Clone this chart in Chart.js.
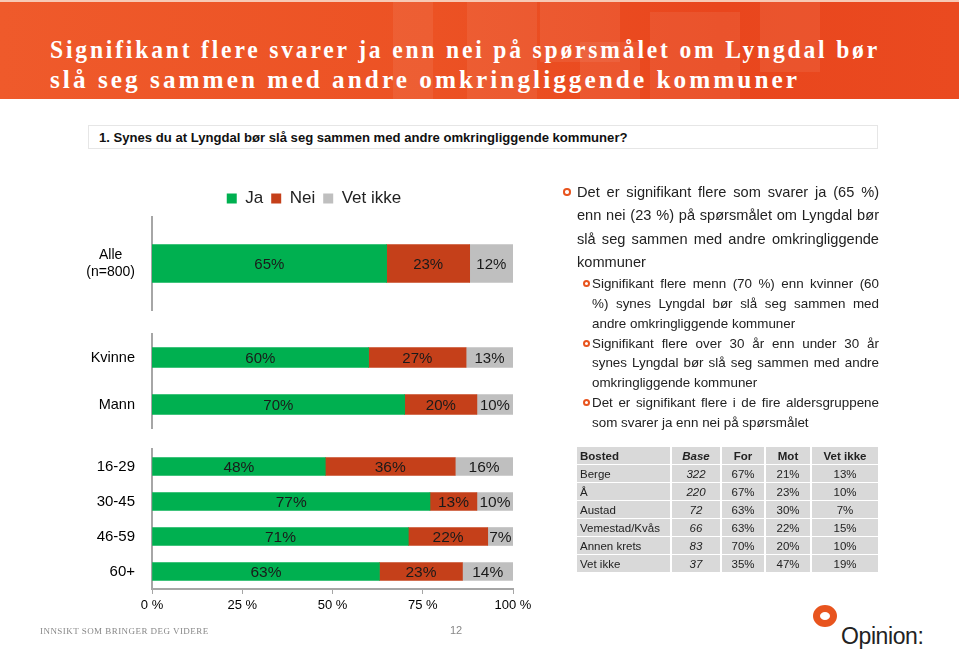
<!DOCTYPE html>
<html>
<head>
<meta charset="utf-8">
<script src="https://cdn.jsdelivr.net/npm/chart.js@4"></script>
<style>
  body { margin: 0; width: 959px; height: 650px; background: #fff; position: relative; overflow: hidden; font-family: "Liberation Sans", Arial, sans-serif; }
  #banner { position: absolute; left: 0; top: 0; width: 959px; height: 99px;
    background: linear-gradient(90deg, #ef5a2b 0%, #ec5224 45%, #e9461d 75%, #ea4a20 100%);
    border-top: 2px solid #f7c9b5; box-sizing: border-box; overflow: hidden; }
  .sq { position: absolute; background: rgba(255,255,255,0.07); }
  #title { position: absolute; left: 50px; top: 33px; color: #fff; font-family: "Liberation Serif", "DejaVu Serif", serif;
    font-weight: bold; font-size: 25px; line-height: 30px; letter-spacing: 3px; }
  .tl { display: inline-block; white-space: nowrap; transform-origin: 0 50%; }
  #question { position: absolute; left: 88px; top: 125px; width: 790px; height: 24px; border: 1px solid #e6e6e6; box-sizing: border-box; }
  #question span { position: absolute; left: 10px; top: 4px; font-size: 13.1px; font-weight: bold; color: #111; }
  canvas { position: absolute; }
  #notes { position: absolute; left: 561px; top: 181px; width: 318px; color: #222; }
  .b1 { position: relative; padding-left: 16px; font-size: 14.6px; line-height: 23.3px; text-align: justify; }
  .b2 { position: relative; padding-left: 31px; font-size: 13.4px; line-height: 19.8px; text-align: justify; }
  .ring { position: absolute; border-style: solid; border-color: #e8541e; border-radius: 50%; }
  .b1 .ring { left: 2px; top: 7px; width: 3.5px; height: 3.5px; border-width: 2.4px; }
  .b2 .ring { left: 22px; top: 6px; width: 3px; height: 3px; border-width: 2.2px; }
  #tbl { position: absolute; left: 575px; top: 446px; width: 305px; table-layout: fixed; border-collapse: separate; border-spacing: 2px 1.5px; font-size: 11.5px; color: #222; }
  #tbl td { background: #d9d9d9; height: 17px; padding: 0 3px; text-align: center; overflow: hidden; white-space: nowrap; }
  #tbl td:first-child { text-align: left; }
  #tbl td.base { font-style: italic; }
  #tbl tr.head td { font-weight: bold; }
  #footer { position: absolute; left: 40px; top: 626px; font-family: "Liberation Serif", serif; font-size: 9px; color: #888; letter-spacing: 0.45px; }
  #page { position: absolute; left: 450px; top: 624px; font-size: 11px; color: #888; }
  #logoRing { position: absolute; left: 813px; top: 605px; width: 10px; height: 8px; border: 7.5px solid #e8541e; border-radius: 50%; }
  #logoText { position: absolute; left: 841px; top: 623px; font-size: 23px; color: #222; font-family: "Liberation Sans", Arial, sans-serif; letter-spacing: -0.4px; }
</style>
</head>
<body>
<div id="banner">
  <div class="sq" style="left:393px;top:0;width:40px;height:99px"></div>
  <div class="sq" style="left:467px;top:0;width:70px;height:99px"></div>
  <div class="sq" style="left:540px;top:0;width:80px;height:60px"></div>
  <div class="sq" style="left:580px;top:40px;width:60px;height:59px"></div>
  <div class="sq" style="left:650px;top:10px;width:90px;height:89px"></div>
  <div class="sq" style="left:760px;top:0;width:60px;height:70px"></div>
  <div id="title"><span class="tl" data-w="830">Signifikant flere svarer ja enn nei på spørsmålet om Lyngdal bør</span><br><span class="tl" data-w="750">slå seg sammen med andre omkringliggende kommuner</span></div>
</div>
<div id="question"><span>1. Synes du at Lyngdal bør slå seg sammen med andre omkringliggende kommuner?</span></div>

<canvas id="c1" width="628" height="147" style="left:0;top:180px"></canvas>
<canvas id="c2" width="540" height="112" style="left:0;top:325px"></canvas>
<canvas id="c3" width="540" height="180" style="left:0;top:440px"></canvas>

<div id="notes">
  <div class="b1"><span class="ring"></span>Det er signifikant flere som svarer ja (65 %) enn nei (23 %) på spørsmålet om Lyngdal bør slå seg sammen med andre omkringliggende kommuner</div>
  <div class="b2"><span class="ring"></span>Signifikant flere menn (70 %) enn kvinner (60 %) synes Lyngdal bør slå seg sammen med andre omkringliggende kommuner</div>
  <div class="b2"><span class="ring"></span>Signifikant flere over 30 år enn under 30 år synes Lyngdal bør slå seg sammen med andre omkringliggende kommuner</div>
  <div class="b2"><span class="ring"></span>Det er signifikant flere i de fire aldersgruppene som svarer ja enn nei på spørsmålet</div>
</div>

<table id="tbl">
  <colgroup><col style="width:93px"><col style="width:48px"><col style="width:42px"><col style="width:44px"><col style="width:66px"></colgroup>
  <tbody id="tbody"></tbody>
</table>

<div id="footer">INNSIKT SOM BRINGER DEG VIDERE</div>
<div id="page">12</div>
<div id="logoRing"></div>
<div id="logoText">Opinion:</div>

<script>
// legend / series
var seriesNames = ["Ja", "Nei", "Vet ikke"];
var colors = ["#00b050", "#c5401a", "#bfbfbf"];

// total
var allCats = [["Alle", "(n=800)"]];
var allJa = [65];
var allNei = [23];
var allVet = [12];

// gender
var genderCats = ["Kvinne", "Mann"];
var genderJa = [60, 70];
var genderNei = [27, 20];
var genderVet = [13, 10];

// age
var ageCats = ["16-29", "30-45", "46-59", "60+"];
var ageJa = [48, 77, 71, 63];
var ageNei = [36, 13, 22, 23];
var ageVet = [16, 10, 7, 14];

var xTicks = [0, 25, 50, 75, 100];

// table
var tblHead = ["Bosted", "Base", "For", "Mot", "Vet ikke"];
var bosted = ["Berge", "Å", "Austad", "Vemestad/Kvås", "Annen krets", "Vet ikke"];
var base = [322, 220, 72, 66, 83, 37];
var forV = [67, 67, 63, 63, 70, 35];
var mot = [21, 23, 30, 22, 20, 47];
var vetIkke = [13, 10, 7, 15, 10, 19];

// squeeze title lines to the width they have on the slide
document.querySelectorAll(".tl").forEach(function(el) {
  var w = el.getBoundingClientRect().width;
  el.style.transform = "scaleX(" + (el.dataset.w / w) + ")";
});

var labelPlugin = {
  id: "segLabels",
  afterDatasetsDraw: function(chart) {
    var ctx = chart.ctx;
    var size = chart.options.plugins.segLabels.size;
    ctx.save();
    ctx.font = size + "px 'Liberation Sans', Arial, sans-serif";
    ctx.fillStyle = "#1a1a1a";
    ctx.textAlign = "center";
    ctx.textBaseline = "middle";
    chart.data.datasets.forEach(function(ds, i) {
      var meta = chart.getDatasetMeta(i);
      meta.data.forEach(function(el, j) {
        ctx.fillText(ds.data[j] + "%", (el.x + el.base) / 2, el.y + 1);
      });
    });
    ctx.restore();
  }
};

function makeSets(ja, nei, vet, thick) {
  return [ja, nei, vet].map(function(d, i) {
    return { label: seriesNames[i], data: d, backgroundColor: colors[i], barThickness: thick };
  });
}

function yAxis(fontSize, align) {
  return {
    stacked: true,
    grid: { display: true, drawOnChartArea: false, drawTicks: true, tickLength: 17, color: "rgba(0,0,0,0)" },
    border: { display: true, color: "#a6a6a6", width: 2 },
    ticks: { color: "#000", font: { size: fontSize, family: "'Liberation Sans', Arial" }, padding: 0, crossAlign: align || "near" },
    afterFit: function(s) { s.width = 152; }
  };
}

new Chart(document.getElementById("c1"), {
  type: "bar",
  data: { labels: allCats, datasets: makeSets(allJa, allNei, allVet, 38) },
  options: {
    indexAxis: "y", responsive: false, animation: false,
    layout: { padding: { left: 0, right: 0, top: 2, bottom: 17 } },
    scales: {
      x: { display: false, stacked: true, min: 0, max: 100 },
      y: yAxis(14, "center"),
      // empty right-hand box so the legend centres over the slide column
      y2: { type: "linear", position: "right", display: true, grid: { display: false }, border: { display: false },
        ticks: { display: false }, afterFit: function(s) { s.width = 115; } }
    },
    plugins: {
      tooltip: { enabled: false },
      segLabels: { size: 15 },
      legend: {
        display: true, position: "top",
        labels: { usePointStyle: true, pointStyle: "rect", boxWidth: 10, boxHeight: 10, padding: 8,
          color: "#222", font: { size: 17, family: "'Liberation Sans', Arial" } }
      }
    }
  },
  plugins: [labelPlugin]
});

new Chart(document.getElementById("c2"), {
  type: "bar",
  data: { labels: genderCats, datasets: makeSets(genderJa, genderNei, genderVet, 20) },
  options: {
    indexAxis: "y", responsive: false, animation: false,
    layout: { padding: { left: 0, right: 27, top: 9, bottom: 9 } },
    scales: {
      x: { display: false, stacked: true, min: 0, max: 100 },
      y: yAxis(14.5)
    },
    plugins: { legend: { display: false }, tooltip: { enabled: false }, segLabels: { size: 15 } }
  },
  plugins: [labelPlugin]
});

new Chart(document.getElementById("c3"), {
  type: "bar",
  data: { labels: ageCats, datasets: makeSets(ageJa, ageNei, ageVet, 18) },
  options: {
    indexAxis: "y", responsive: false, animation: false,
    layout: { padding: { left: 0, right: 27, top: 9, bottom: 0 } },
    scales: {
      x: {
        stacked: true, min: 0, max: 100,
        afterBuildTicks: function(s) { s.ticks = xTicks.map(function(v) { return { value: v }; }); },
        grid: { drawOnChartArea: false, drawTicks: true, tickLength: 5, color: "#a6a6a6", lineWidth: 1 },
        border: { display: true, color: "#a6a6a6", width: 2 },
        ticks: { color: "#000", font: { size: 13, family: "'Liberation Sans', Arial" }, padding: 4,
          callback: function(v) { return v + " %"; } },
        afterFit: function(s) { s.height = 31; }
      },
      y: yAxis(15)
    },
    plugins: { legend: { display: false }, tooltip: { enabled: false }, segLabels: { size: 15.5 } }
  },
  plugins: [labelPlugin]
});

// table
var rows = "<tr class='head'>" + tblHead.map(function(h, i) {
  return "<td" + (i === 1 ? " class='base'" : "") + ">" + h + "</td>";
}).join("") + "</tr>";
bosted.forEach(function(b, i) {
  rows += "<tr><td>" + b + "</td><td class='base'>" + base[i] + "</td><td>" + forV[i] + "%</td><td>" +
    mot[i] + "%</td><td>" + vetIkke[i] + "%</td></tr>";
});
document.getElementById("tbody").innerHTML = rows;
</script>
</body>
</html>
